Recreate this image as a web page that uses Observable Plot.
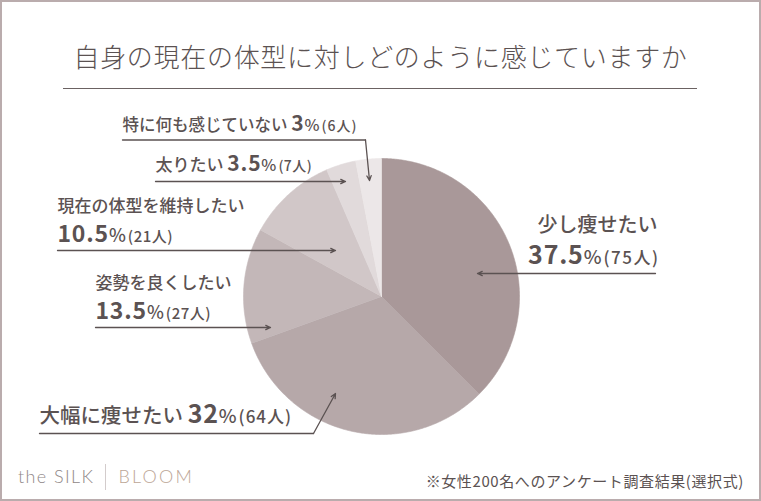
<!DOCTYPE html>
<html><head><meta charset="utf-8">
<script src="https://cdn.jsdelivr.net/npm/d3@7"></script>
<script src="https://cdn.jsdelivr.net/npm/@observablehq/plot@0.6"></script>
<style>
html,body{margin:0;padding:0;background:#fff;}
#page{position:relative;width:761px;height:501px;overflow:hidden;font-family:"Noto Sans CJK JP","Noto Sans",sans-serif;color:#5b5252;background:#fff;}
#frame{position:absolute;left:0;top:0;width:761px;height:501px;box-sizing:border-box;border:2px solid #baacad;pointer-events:none;z-index:5;}
#chart{position:absolute;left:0;top:0;}
#title{position:absolute;left:0;top:38px;width:761px;text-align:center;font-size:26px;line-height:36px;font-weight:300;letter-spacing:0.7px;color:#5b5252;white-space:nowrap;}
#rule{position:absolute;left:63px;top:88px;width:634px;height:0;border-top:1.5px solid #6b6262;}
#logo{position:absolute;left:18px;top:465px;font-family:Lato,"Open Sans",sans-serif;font-weight:300;font-size:18px;line-height:22px;white-space:nowrap;}
#logo .a{color:#8f8787;letter-spacing:1.4px;}
#logo .sep{display:inline-block;width:1px;height:26px;background:#d3cccc;vertical-align:middle;margin:0 12px 0 11px;position:relative;top:-2px;}
#logo .b{color:#bca696;letter-spacing:2.2px;}
#note{position:absolute;right:17px;top:472px;font-size:15px;line-height:18px;color:#5b5252;white-space:nowrap;letter-spacing:0.6px;}
</style></head>
<body>
<div id="page">
  <div id="chart"></div>
  <div id="title">自身の現在の体型に対しどのように感じていますか</div>
  <div id="rule"></div>
  <div id="logo"><span class="a">the SILK</span><span class="sep"></span><span class="b">BLOOM</span></div>
  <div id="note">※女性200名へのアンケート調査結果(選択式)</div>
  <div id="frame"></div>
</div>
<script>
// ---- data ----
const categories = ["少し痩せたい", "大幅に痩せたい", "姿勢を良くしたい", "現在の体型を維持したい", "太りたい", "特に何も感じていない"];
const percents = [37.5, 32, 13.5, 10.5, 3.5, 3];
const counts = [75, 64, 27, 21, 7, 6];

// ---- styles ----
const palette = ["#a99899", "#b6a8a9", "#c3b7b8", "#d1c7c8", "#e1dadb", "#ece7e8"];
const ink = "#5b5252";

// ---- layout (page pixel coordinates) ----
const pieCenter = {x: 381, y: 296};
const pieRadius = 138;
const labelLayout = [
  {cat: 0, line: "name", x: 657, y: 231, anchor: "end", nameSize: 20},
  {cat: 0, line: "value", x: 659, y: 263, anchor: "end", numSize: 25, pctSize: 19, parSize: 17, parLs: 1.5},
  {cat: 1, line: "both", x: 39, y: 422, anchor: "start", nameSize: 20.5, numSize: 25, pctSize: 19, parSize: 17, parLs: 1},
  {cat: 2, line: "name", x: 95, y: 288, anchor: "start", nameSize: 17},
  {cat: 2, line: "value", x: 95, y: 318, anchor: "start", numSize: 23, pctSize: 18, parSize: 15, parLs: 0.5},
  {cat: 3, line: "name", x: 57, y: 211, anchor: "start", nameSize: 17},
  {cat: 3, line: "value", x: 57, y: 241, anchor: "start", numSize: 23, pctSize: 18, parSize: 15, parLs: 0.5},
  {cat: 4, line: "both", x: 155, y: 170, anchor: "start", nameSize: 17, numSize: 21, pctSize: 16, parSize: 14, parLs: 0.5},
  {cat: 5, line: "both", x: 122, y: 130, anchor: "start", nameSize: 16.5, numSize: 21, pctSize: 16, parSize: 14, parLs: 1}
];
const leaderLayout = [
  {cat: 0, pts: [[655, 273], [477, 273]]},
  {cat: 1, pts: [[39, 433], [313, 433], [335, 393]]},
  {cat: 2, pts: [[95, 327], [270, 327]]},
  {cat: 3, pts: [[57, 250], [335, 250]]},
  {cat: 4, pts: [[155, 181], [345, 181]]},
  {cat: 5, pts: [[122, 139.5], [365, 139.5], [369, 180]]}
];

// ---- build pie polygons from values ----
const rows = categories.map((c, i) => ({category: c, percent: percents[i], count: counts[i]}));
const arcs = d3.pie().sort(null).value(d => d.percent)(rows);
const slicePts = arcs.flatMap(a => {
  const n = Math.max(4, Math.ceil((a.endAngle - a.startAngle) / 0.01));
  const pts = [{x: pieCenter.x, y: pieCenter.y, category: a.data.category}];
  for (let i = 0; i <= n; i++) {
    const t = a.startAngle + (a.endAngle - a.startAngle) * i / n;
    pts.push({x: pieCenter.x + pieRadius * Math.sin(t), y: pieCenter.y - pieRadius * Math.cos(t), category: a.data.category});
  }
  pts.push({x: pieCenter.x, y: pieCenter.y, category: a.data.category});
  return pts;
});

// ---- label lines ----
const labelLines = labelLayout.map(L => {
  const r = rows[L.cat];
  const parts = [];
  if (L.line === "name" || L.line === "both") parts.push({t: r.category + (L.line === "both" ? " " : ""), size: L.nameSize, w: 500});
  if (L.line === "value" || L.line === "both") {
    parts.push({t: String(r.percent), size: L.numSize, w: 600, ls: 0.8});
    parts.push({t: "%", size: L.pctSize, w: 500});
    parts.push({t: "(" + r.count + "人)", size: L.parSize, w: 500, dx: 2, ls: L.parLs});
  }
  return {x: L.x, y: L.y, anchor: L.anchor, parts, full: parts.map(p => p.t).join("")};
});

// ---- leaders ----
const leaderPolyPts = leaderLayout.filter(l => l.pts.length > 2)
  .flatMap(l => l.pts.slice(0, -1).map(p => ({x: p[0], y: p[1], cat: l.cat})));
const leaderArrows = leaderLayout.map(l => {
  const a = l.pts[l.pts.length - 2], b = l.pts[l.pts.length - 1];
  return {x1: a[0], y1: a[1], x2: b[0], y2: b[1]};
});

const chart = Plot.plot({
  width: 761, height: 501, margin: 0,
  x: {domain: [0, 761], range: [0, 761], axis: null},
  y: {domain: [0, 501], range: [0, 501], axis: null},
  color: {domain: categories, range: palette},
  style: {fontFamily: '"Noto Sans CJK JP", "Noto Sans", sans-serif', background: "transparent", overflow: "visible"},
  marks: [
    Plot.line(slicePts, {x: "x", y: "y", z: "category", fill: "category", stroke: "category", strokeWidth: 0.6, curve: "linear"}),
    Plot.line(leaderPolyPts, {x: "x", y: "y", z: "cat", stroke: ink, strokeWidth: 1.3}),
    Plot.arrow(leaderArrows, {x1: "x1", y1: "y1", x2: "x2", y2: "y2", stroke: ink, strokeWidth: 1.3, headLength: 6, headAngle: 50}),
    Plot.text(labelLines, {x: "x", y: "y", text: "full", lineAnchor: "bottom", fill: ink, fontSize: 16})
  ]
});

// mixed type sizes inside each label line
const svgNS = "http://www.w3.org/2000/svg";
chart.querySelectorAll("text").forEach(el => {
  const spec = labelLines.find(s => s.full === el.textContent);
  if (!spec) return;
  el.textContent = "";
  el.setAttribute("text-anchor", spec.anchor);
  spec.parts.forEach(p => {
    const ts = document.createElementNS(svgNS, "tspan");
    ts.textContent = p.t;
    ts.setAttribute("font-size", p.size);
    ts.setAttribute("font-weight", p.w);
    if (p.ls) ts.setAttribute("letter-spacing", p.ls);
    if (p.dx) ts.setAttribute("dx", p.dx);
    el.appendChild(ts);
  });
});
document.getElementById("chart").appendChild(chart);
</script>
</body></html>
